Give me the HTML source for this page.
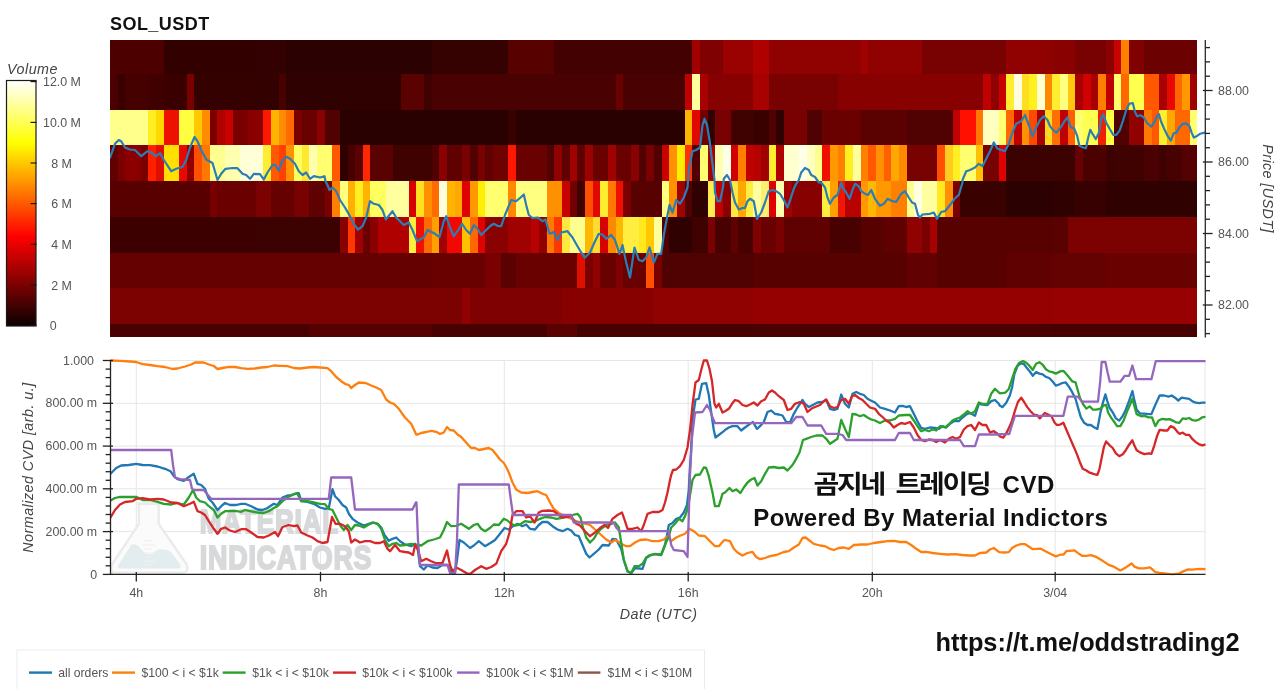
<!DOCTYPE html>
<html lang="ko"><head><meta charset="utf-8"><title>SOL_USDT CVD</title>
<style>html,body{margin:0;padding:0;background:#fff;}body{width:1280px;height:689px;overflow:hidden;position:relative;font-family:"Liberation Sans",sans-serif;}svg{position:absolute;left:0;top:0;display:block;will-change:transform;opacity:0.9999}text{font-family:"Liberation Sans",sans-serif}.kr{font-family:"Liberation Sans","Noto Sans CJK KR",sans-serif;font-weight:bold;fill:#111}</style>
</head><body>
<svg width="1280" height="689" viewBox="0 0 1280 689">
<defs><linearGradient id="hot" x1="0" y1="1" x2="0" y2="0"><stop offset="0" stop-color="#0b0000"/><stop offset="0.365" stop-color="#ff0000"/><stop offset="0.746" stop-color="#ffff00"/><stop offset="1" stop-color="#ffffff"/></linearGradient><clipPath id="cp1"><rect x="110" y="40" width="1095.6" height="297"/></clipPath><clipPath id="cp2"><rect x="110" y="359" width="1095.6" height="216.5"/></clipPath></defs>
<rect x="0" y="0" width="1280" height="689" fill="#fff"/>
<text x="110" y="30.2" font-size="18" font-weight="bold" fill="#111" letter-spacing="0.45">SOL_USDT</text>
<text x="7" y="74.2" font-size="14.3" font-style="italic" fill="#444" letter-spacing="0.5">Volume</text>
<rect x="6.5" y="80.5" width="29.5" height="245.5" fill="url(#hot)" stroke="#1a1a1a" stroke-width="1.2"/>
<line x1="30.5" x2="36.5" y1="81.6" y2="81.6" stroke="#1a1a1a" stroke-width="1.2"/>
<text x="43.0" y="86.1" font-size="12.4" fill="#555">12.0 M</text>
<line x1="30.5" x2="36.5" y1="122.4" y2="122.4" stroke="#1a1a1a" stroke-width="1.2"/>
<text x="43.0" y="126.9" font-size="12.4" fill="#555">10.0 M</text>
<line x1="30.5" x2="36.5" y1="163.0" y2="163.0" stroke="#1a1a1a" stroke-width="1.2"/>
<text x="51.2" y="167.5" font-size="12.4" fill="#555">8 M</text>
<line x1="30.5" x2="36.5" y1="203.6" y2="203.6" stroke="#1a1a1a" stroke-width="1.2"/>
<text x="51.2" y="208.1" font-size="12.4" fill="#555">6 M</text>
<line x1="30.5" x2="36.5" y1="244.3" y2="244.3" stroke="#1a1a1a" stroke-width="1.2"/>
<text x="51.2" y="248.8" font-size="12.4" fill="#555">4 M</text>
<line x1="30.5" x2="36.5" y1="285.0" y2="285.0" stroke="#1a1a1a" stroke-width="1.2"/>
<text x="51.2" y="289.5" font-size="12.4" fill="#555">2 M</text>
<line x1="30.5" x2="36.5" y1="325.4" y2="325.4" stroke="#1a1a1a" stroke-width="1.2"/>
<text x="49.7" y="329.9" font-size="12.4" fill="#555">0</text>
<g shape-rendering="crispEdges">
<rect x="110.0" y="40.0" width="53.9" height="34.0" fill="#4d0000"/>
<rect x="163.6" y="40.0" width="122.9" height="34.0" fill="#330000"/>
<rect x="286.2" y="40.0" width="145.8" height="34.0" fill="#2c0000"/>
<rect x="431.7" y="40.0" width="76.9" height="34.0" fill="#350000"/>
<rect x="508.3" y="40.0" width="46.3" height="34.0" fill="#580000"/>
<rect x="554.3" y="40.0" width="138.2" height="34.0" fill="#440000"/>
<rect x="692.2" y="40.0" width="8.0" height="34.0" fill="#a00000"/>
<rect x="699.8" y="40.0" width="23.3" height="34.0" fill="#800000"/>
<rect x="722.8" y="40.0" width="30.9" height="34.0" fill="#9a0000"/>
<rect x="753.4" y="40.0" width="15.6" height="34.0" fill="#b00000"/>
<rect x="768.8" y="40.0" width="92.2" height="34.0" fill="#900000"/>
<rect x="860.7" y="40.0" width="8.0" height="34.0" fill="#a00000"/>
<rect x="868.3" y="40.0" width="53.9" height="34.0" fill="#900000"/>
<rect x="922.0" y="40.0" width="84.6" height="34.0" fill="#780000"/>
<rect x="1006.2" y="40.0" width="46.3" height="34.0" fill="#900000"/>
<rect x="1052.2" y="40.0" width="23.3" height="34.0" fill="#8a0000"/>
<rect x="1075.2" y="40.0" width="30.9" height="34.0" fill="#780000"/>
<rect x="1105.8" y="40.0" width="8.0" height="34.0" fill="#8a0000"/>
<rect x="1113.5" y="40.0" width="8.0" height="34.0" fill="#c80000"/>
<rect x="1121.1" y="40.0" width="8.0" height="34.0" fill="#ff8000"/>
<rect x="1128.8" y="40.0" width="15.6" height="34.0" fill="#800000"/>
<rect x="1144.1" y="40.0" width="53.0" height="34.0" fill="#6c0000"/>
<rect x="110.0" y="73.7" width="8.0" height="36.1" fill="#4a0000"/>
<rect x="117.7" y="73.7" width="8.0" height="36.1" fill="#3a0000"/>
<rect x="125.3" y="73.7" width="23.3" height="36.1" fill="#450000"/>
<rect x="148.3" y="73.7" width="15.6" height="36.1" fill="#400000"/>
<rect x="163.6" y="73.7" width="23.3" height="36.1" fill="#3a0000"/>
<rect x="186.6" y="73.7" width="8.0" height="36.1" fill="#7a0000"/>
<rect x="194.3" y="73.7" width="84.6" height="36.1" fill="#340000"/>
<rect x="278.5" y="73.7" width="8.0" height="36.1" fill="#480000"/>
<rect x="286.2" y="73.7" width="115.2" height="36.1" fill="#300000"/>
<rect x="401.1" y="73.7" width="23.3" height="36.1" fill="#5a0000"/>
<rect x="424.1" y="73.7" width="8.0" height="36.1" fill="#400000"/>
<rect x="431.7" y="73.7" width="184.1" height="36.1" fill="#4a0000"/>
<rect x="615.6" y="73.7" width="8.0" height="36.1" fill="#6a0000"/>
<rect x="623.2" y="73.7" width="61.6" height="36.1" fill="#4a0000"/>
<rect x="684.5" y="73.7" width="8.0" height="36.1" fill="#c00000"/>
<rect x="692.2" y="73.7" width="8.0" height="36.1" fill="#ffffa0"/>
<rect x="699.8" y="73.7" width="8.0" height="36.1" fill="#a80000"/>
<rect x="707.5" y="73.7" width="46.3" height="36.1" fill="#880000"/>
<rect x="753.4" y="73.7" width="15.6" height="36.1" fill="#a80000"/>
<rect x="768.8" y="73.7" width="69.2" height="36.1" fill="#780000"/>
<rect x="837.7" y="73.7" width="145.8" height="36.1" fill="#880000"/>
<rect x="983.2" y="73.7" width="8.0" height="36.1" fill="#c00000"/>
<rect x="990.9" y="73.7" width="8.0" height="36.1" fill="#900000"/>
<rect x="998.6" y="73.7" width="8.0" height="36.1" fill="#c80000"/>
<rect x="1006.2" y="73.7" width="8.0" height="36.1" fill="#ffee30"/>
<rect x="1013.9" y="73.7" width="8.0" height="36.1" fill="#ffffe0"/>
<rect x="1021.5" y="73.7" width="8.0" height="36.1" fill="#ffdd20"/>
<rect x="1029.2" y="73.7" width="8.0" height="36.1" fill="#fff020"/>
<rect x="1036.9" y="73.7" width="8.0" height="36.1" fill="#ffffd0"/>
<rect x="1044.5" y="73.7" width="8.0" height="36.1" fill="#ff8800"/>
<rect x="1052.2" y="73.7" width="8.0" height="36.1" fill="#ffee30"/>
<rect x="1059.8" y="73.7" width="8.0" height="36.1" fill="#ffff80"/>
<rect x="1067.5" y="73.7" width="8.0" height="36.1" fill="#ffc810"/>
<rect x="1075.2" y="73.7" width="8.0" height="36.1" fill="#a80000"/>
<rect x="1082.8" y="73.7" width="8.0" height="36.1" fill="#d00000"/>
<rect x="1090.5" y="73.7" width="8.0" height="36.1" fill="#a80000"/>
<rect x="1098.1" y="73.7" width="8.0" height="36.1" fill="#ff8000"/>
<rect x="1105.8" y="73.7" width="8.0" height="36.1" fill="#c00000"/>
<rect x="1113.5" y="73.7" width="8.0" height="36.1" fill="#ffff70"/>
<rect x="1121.1" y="73.7" width="8.0" height="36.1" fill="#ff6800"/>
<rect x="1128.8" y="73.7" width="15.6" height="36.1" fill="#ffff50"/>
<rect x="1144.1" y="73.7" width="15.6" height="36.1" fill="#ff5800"/>
<rect x="1159.4" y="73.7" width="8.0" height="36.1" fill="#a80000"/>
<rect x="1167.1" y="73.7" width="8.0" height="36.1" fill="#e80800"/>
<rect x="1174.7" y="73.7" width="8.0" height="36.1" fill="#ff6800"/>
<rect x="1182.4" y="73.7" width="8.0" height="36.1" fill="#ff9800"/>
<rect x="1190.1" y="73.7" width="7.0" height="36.1" fill="#a00000"/>
<rect x="110.0" y="109.5" width="38.6" height="36.1" fill="#ffff8c"/>
<rect x="148.3" y="109.5" width="8.0" height="36.1" fill="#ffee20"/>
<rect x="156.0" y="109.5" width="8.0" height="36.1" fill="#ffd800"/>
<rect x="163.6" y="109.5" width="15.6" height="36.1" fill="#ee1000"/>
<rect x="178.9" y="109.5" width="15.6" height="36.1" fill="#ffff40"/>
<rect x="194.3" y="109.5" width="8.0" height="36.1" fill="#ffc800"/>
<rect x="201.9" y="109.5" width="8.0" height="36.1" fill="#ff8c00"/>
<rect x="209.6" y="109.5" width="8.0" height="36.1" fill="#7a0000"/>
<rect x="217.2" y="109.5" width="8.0" height="36.1" fill="#b00000"/>
<rect x="224.9" y="109.5" width="8.0" height="36.1" fill="#c80000"/>
<rect x="232.6" y="109.5" width="15.6" height="36.1" fill="#7a0000"/>
<rect x="247.9" y="109.5" width="15.6" height="36.1" fill="#8a0000"/>
<rect x="263.2" y="109.5" width="8.0" height="36.1" fill="#ff1800"/>
<rect x="270.9" y="109.5" width="8.0" height="36.1" fill="#ffb400"/>
<rect x="278.5" y="109.5" width="8.0" height="36.1" fill="#ff8c00"/>
<rect x="286.2" y="109.5" width="8.0" height="36.1" fill="#ff6a00"/>
<rect x="293.8" y="109.5" width="8.0" height="36.1" fill="#7a0000"/>
<rect x="301.5" y="109.5" width="15.6" height="36.1" fill="#6a0000"/>
<rect x="316.8" y="109.5" width="8.0" height="36.1" fill="#8a0000"/>
<rect x="324.5" y="109.5" width="15.6" height="36.1" fill="#500000"/>
<rect x="339.8" y="109.5" width="168.8" height="36.1" fill="#2a0000"/>
<rect x="508.3" y="109.5" width="8.0" height="36.1" fill="#3a0000"/>
<rect x="516.0" y="109.5" width="168.8" height="36.1" fill="#2a0000"/>
<rect x="684.5" y="109.5" width="8.0" height="36.1" fill="#ffb400"/>
<rect x="692.2" y="109.5" width="8.0" height="36.1" fill="#e00800"/>
<rect x="699.8" y="109.5" width="8.0" height="36.1" fill="#700000"/>
<rect x="707.5" y="109.5" width="8.0" height="36.1" fill="#300000"/>
<rect x="715.1" y="109.5" width="15.6" height="36.1" fill="#7a0000"/>
<rect x="730.5" y="109.5" width="23.3" height="36.1" fill="#400000"/>
<rect x="753.4" y="109.5" width="15.6" height="36.1" fill="#3a0000"/>
<rect x="768.8" y="109.5" width="8.0" height="36.1" fill="#500000"/>
<rect x="776.4" y="109.5" width="8.0" height="36.1" fill="#300000"/>
<rect x="784.1" y="109.5" width="23.3" height="36.1" fill="#7a0000"/>
<rect x="807.1" y="109.5" width="15.6" height="36.1" fill="#500000"/>
<rect x="822.4" y="109.5" width="38.6" height="36.1" fill="#6a0000"/>
<rect x="860.7" y="109.5" width="46.3" height="36.1" fill="#5a0000"/>
<rect x="906.6" y="109.5" width="46.3" height="36.1" fill="#500000"/>
<rect x="952.6" y="109.5" width="8.0" height="36.1" fill="#c00000"/>
<rect x="960.3" y="109.5" width="15.6" height="36.1" fill="#ff1000"/>
<rect x="975.6" y="109.5" width="8.0" height="36.1" fill="#ff7800"/>
<rect x="983.2" y="109.5" width="15.6" height="36.1" fill="#ffffc0"/>
<rect x="998.6" y="109.5" width="8.0" height="36.1" fill="#ffff70"/>
<rect x="1006.2" y="109.5" width="8.0" height="36.1" fill="#ff6800"/>
<rect x="1013.9" y="109.5" width="8.0" height="36.1" fill="#c00000"/>
<rect x="1021.5" y="109.5" width="8.0" height="36.1" fill="#ff9000"/>
<rect x="1029.2" y="109.5" width="8.0" height="36.1" fill="#ff4800"/>
<rect x="1036.9" y="109.5" width="8.0" height="36.1" fill="#a80000"/>
<rect x="1044.5" y="109.5" width="8.0" height="36.1" fill="#ffd820"/>
<rect x="1052.2" y="109.5" width="8.0" height="36.1" fill="#ff7000"/>
<rect x="1059.8" y="109.5" width="8.0" height="36.1" fill="#c00000"/>
<rect x="1067.5" y="109.5" width="8.0" height="36.1" fill="#ff6000"/>
<rect x="1075.2" y="109.5" width="8.0" height="36.1" fill="#ffff70"/>
<rect x="1082.8" y="109.5" width="15.6" height="36.1" fill="#ffff50"/>
<rect x="1098.1" y="109.5" width="8.0" height="36.1" fill="#f02000"/>
<rect x="1105.8" y="109.5" width="8.0" height="36.1" fill="#ffff40"/>
<rect x="1113.5" y="109.5" width="15.6" height="36.1" fill="#500000"/>
<rect x="1128.8" y="109.5" width="15.6" height="36.1" fill="#900000"/>
<rect x="1144.1" y="109.5" width="8.0" height="36.1" fill="#ff7800"/>
<rect x="1151.8" y="109.5" width="8.0" height="36.1" fill="#ff5800"/>
<rect x="1159.4" y="109.5" width="8.0" height="36.1" fill="#ffee30"/>
<rect x="1167.1" y="109.5" width="8.0" height="36.1" fill="#ffa800"/>
<rect x="1174.7" y="109.5" width="15.6" height="36.1" fill="#ff6800"/>
<rect x="1190.1" y="109.5" width="7.0" height="36.1" fill="#ffff70"/>
<rect x="110.0" y="145.3" width="8.0" height="36.3" fill="#600000"/>
<rect x="117.7" y="145.3" width="8.0" height="36.3" fill="#7a0000"/>
<rect x="125.3" y="145.3" width="15.6" height="36.3" fill="#8a0000"/>
<rect x="140.6" y="145.3" width="8.0" height="36.3" fill="#7a0000"/>
<rect x="148.3" y="145.3" width="8.0" height="36.3" fill="#ff2000"/>
<rect x="156.0" y="145.3" width="8.0" height="36.3" fill="#e01000"/>
<rect x="163.6" y="145.3" width="15.6" height="36.3" fill="#ffe000"/>
<rect x="178.9" y="145.3" width="8.0" height="36.3" fill="#e80800"/>
<rect x="186.6" y="145.3" width="8.0" height="36.3" fill="#900000"/>
<rect x="194.3" y="145.3" width="8.0" height="36.3" fill="#ff5000"/>
<rect x="201.9" y="145.3" width="8.0" height="36.3" fill="#ff7800"/>
<rect x="209.6" y="145.3" width="15.6" height="36.3" fill="#ffff90"/>
<rect x="224.9" y="145.3" width="15.6" height="36.3" fill="#ffffb0"/>
<rect x="240.2" y="145.3" width="23.3" height="36.3" fill="#ffffd8"/>
<rect x="263.2" y="145.3" width="8.0" height="36.3" fill="#ffee30"/>
<rect x="270.9" y="145.3" width="8.0" height="36.3" fill="#ff5a00"/>
<rect x="278.5" y="145.3" width="8.0" height="36.3" fill="#ff4000"/>
<rect x="286.2" y="145.3" width="8.0" height="36.3" fill="#ff9000"/>
<rect x="293.8" y="145.3" width="8.0" height="36.3" fill="#ffff60"/>
<rect x="301.5" y="145.3" width="8.0" height="36.3" fill="#ffe830"/>
<rect x="309.2" y="145.3" width="8.0" height="36.3" fill="#ffffb0"/>
<rect x="316.8" y="145.3" width="15.6" height="36.3" fill="#ffff70"/>
<rect x="332.1" y="145.3" width="8.0" height="36.3" fill="#ff5a00"/>
<rect x="339.8" y="145.3" width="8.0" height="36.3" fill="#300000"/>
<rect x="347.5" y="145.3" width="8.0" height="36.3" fill="#480000"/>
<rect x="355.1" y="145.3" width="8.0" height="36.3" fill="#5a0000"/>
<rect x="362.8" y="145.3" width="8.0" height="36.3" fill="#ff2800"/>
<rect x="370.4" y="145.3" width="23.3" height="36.3" fill="#5a0000"/>
<rect x="393.4" y="145.3" width="38.6" height="36.3" fill="#400000"/>
<rect x="431.7" y="145.3" width="8.0" height="36.3" fill="#500000"/>
<rect x="439.4" y="145.3" width="8.0" height="36.3" fill="#8a0000"/>
<rect x="447.0" y="145.3" width="15.6" height="36.3" fill="#600000"/>
<rect x="462.4" y="145.3" width="8.0" height="36.3" fill="#7a0000"/>
<rect x="470.0" y="145.3" width="8.0" height="36.3" fill="#500000"/>
<rect x="477.7" y="145.3" width="8.0" height="36.3" fill="#7a0000"/>
<rect x="485.3" y="145.3" width="8.0" height="36.3" fill="#600000"/>
<rect x="493.0" y="145.3" width="15.6" height="36.3" fill="#700000"/>
<rect x="508.3" y="145.3" width="8.0" height="36.3" fill="#ff1800"/>
<rect x="516.0" y="145.3" width="30.9" height="36.3" fill="#6a0000"/>
<rect x="546.6" y="145.3" width="8.0" height="36.3" fill="#500000"/>
<rect x="554.3" y="145.3" width="8.0" height="36.3" fill="#900000"/>
<rect x="561.9" y="145.3" width="8.0" height="36.3" fill="#600000"/>
<rect x="569.6" y="145.3" width="8.0" height="36.3" fill="#a00000"/>
<rect x="577.3" y="145.3" width="8.0" height="36.3" fill="#600000"/>
<rect x="584.9" y="145.3" width="8.0" height="36.3" fill="#9a0000"/>
<rect x="592.6" y="145.3" width="15.6" height="36.3" fill="#6a0000"/>
<rect x="607.9" y="145.3" width="8.0" height="36.3" fill="#a00000"/>
<rect x="615.6" y="145.3" width="15.6" height="36.3" fill="#6a0000"/>
<rect x="630.9" y="145.3" width="8.0" height="36.3" fill="#8a0000"/>
<rect x="638.5" y="145.3" width="8.0" height="36.3" fill="#500000"/>
<rect x="646.2" y="145.3" width="8.0" height="36.3" fill="#7a0000"/>
<rect x="653.9" y="145.3" width="8.0" height="36.3" fill="#500000"/>
<rect x="661.5" y="145.3" width="8.0" height="36.3" fill="#c80000"/>
<rect x="669.2" y="145.3" width="8.0" height="36.3" fill="#ff9000"/>
<rect x="676.8" y="145.3" width="8.0" height="36.3" fill="#ffee00"/>
<rect x="684.5" y="145.3" width="8.0" height="36.3" fill="#ff3000"/>
<rect x="692.2" y="145.3" width="8.0" height="36.3" fill="#500000"/>
<rect x="699.8" y="145.3" width="8.0" height="36.3" fill="#ffff70"/>
<rect x="707.5" y="145.3" width="8.0" height="36.3" fill="#a80000"/>
<rect x="715.1" y="145.3" width="8.0" height="36.3" fill="#ffffb0"/>
<rect x="722.8" y="145.3" width="8.0" height="36.3" fill="#ffffe8"/>
<rect x="730.5" y="145.3" width="8.0" height="36.3" fill="#d00000"/>
<rect x="738.1" y="145.3" width="8.0" height="36.3" fill="#ff8000"/>
<rect x="745.8" y="145.3" width="8.0" height="36.3" fill="#c00000"/>
<rect x="753.4" y="145.3" width="8.0" height="36.3" fill="#b80000"/>
<rect x="761.1" y="145.3" width="8.0" height="36.3" fill="#a00000"/>
<rect x="768.8" y="145.3" width="8.0" height="36.3" fill="#ffee30"/>
<rect x="776.4" y="145.3" width="8.0" height="36.3" fill="#b00000"/>
<rect x="784.1" y="145.3" width="15.6" height="36.3" fill="#ffffd0"/>
<rect x="799.4" y="145.3" width="8.0" height="36.3" fill="#ffffe8"/>
<rect x="807.1" y="145.3" width="8.0" height="36.3" fill="#ffffc0"/>
<rect x="814.7" y="145.3" width="8.0" height="36.3" fill="#ffff90"/>
<rect x="822.4" y="145.3" width="8.0" height="36.3" fill="#f01000"/>
<rect x="830.0" y="145.3" width="8.0" height="36.3" fill="#ff9800"/>
<rect x="837.7" y="145.3" width="8.0" height="36.3" fill="#ff8000"/>
<rect x="845.4" y="145.3" width="8.0" height="36.3" fill="#ffee20"/>
<rect x="853.0" y="145.3" width="8.0" height="36.3" fill="#ffffa0"/>
<rect x="860.7" y="145.3" width="8.0" height="36.3" fill="#ff8000"/>
<rect x="868.3" y="145.3" width="8.0" height="36.3" fill="#ff5800"/>
<rect x="876.0" y="145.3" width="8.0" height="36.3" fill="#ff9000"/>
<rect x="883.7" y="145.3" width="8.0" height="36.3" fill="#ff6000"/>
<rect x="891.3" y="145.3" width="8.0" height="36.3" fill="#ffa800"/>
<rect x="899.0" y="145.3" width="8.0" height="36.3" fill="#ff8800"/>
<rect x="906.6" y="145.3" width="30.9" height="36.3" fill="#780000"/>
<rect x="937.3" y="145.3" width="8.0" height="36.3" fill="#ff5000"/>
<rect x="944.9" y="145.3" width="8.0" height="36.3" fill="#ffcc20"/>
<rect x="952.6" y="145.3" width="8.0" height="36.3" fill="#ffee20"/>
<rect x="960.3" y="145.3" width="15.6" height="36.3" fill="#ffff70"/>
<rect x="975.6" y="145.3" width="8.0" height="36.3" fill="#ffc000"/>
<rect x="983.2" y="145.3" width="15.6" height="36.3" fill="#780000"/>
<rect x="998.6" y="145.3" width="8.0" height="36.3" fill="#e00000"/>
<rect x="1006.2" y="145.3" width="69.2" height="36.3" fill="#3c0000"/>
<rect x="1075.2" y="145.3" width="8.0" height="36.3" fill="#680000"/>
<rect x="1082.8" y="145.3" width="23.3" height="36.3" fill="#4c0000"/>
<rect x="1105.8" y="145.3" width="8.0" height="36.3" fill="#3c0000"/>
<rect x="1113.5" y="145.3" width="30.9" height="36.3" fill="#400000"/>
<rect x="1144.1" y="145.3" width="15.6" height="36.3" fill="#4a0000"/>
<rect x="1159.4" y="145.3" width="8.0" height="36.3" fill="#400000"/>
<rect x="1167.1" y="145.3" width="15.6" height="36.3" fill="#480000"/>
<rect x="1182.4" y="145.3" width="14.7" height="36.3" fill="#560000"/>
<rect x="110.0" y="181.3" width="99.9" height="35.9" fill="#580000"/>
<rect x="209.6" y="181.3" width="8.0" height="35.9" fill="#7a0000"/>
<rect x="217.2" y="181.3" width="38.6" height="35.9" fill="#6a0000"/>
<rect x="255.5" y="181.3" width="15.6" height="35.9" fill="#7c0000"/>
<rect x="270.9" y="181.3" width="23.3" height="35.9" fill="#660000"/>
<rect x="293.8" y="181.3" width="15.6" height="35.9" fill="#780000"/>
<rect x="309.2" y="181.3" width="15.6" height="35.9" fill="#600000"/>
<rect x="324.5" y="181.3" width="8.0" height="35.9" fill="#7a0000"/>
<rect x="332.1" y="181.3" width="8.0" height="35.9" fill="#ff8000"/>
<rect x="339.8" y="181.3" width="8.0" height="35.9" fill="#ffff80"/>
<rect x="347.5" y="181.3" width="8.0" height="35.9" fill="#ffb000"/>
<rect x="355.1" y="181.3" width="8.0" height="35.9" fill="#ffee20"/>
<rect x="362.8" y="181.3" width="8.0" height="35.9" fill="#ffb400"/>
<rect x="370.4" y="181.3" width="15.6" height="35.9" fill="#ffff60"/>
<rect x="385.8" y="181.3" width="23.3" height="35.9" fill="#ffffa0"/>
<rect x="408.7" y="181.3" width="8.0" height="35.9" fill="#d80000"/>
<rect x="416.4" y="181.3" width="8.0" height="35.9" fill="#ffe020"/>
<rect x="424.1" y="181.3" width="8.0" height="35.9" fill="#ff9000"/>
<rect x="431.7" y="181.3" width="8.0" height="35.9" fill="#ff6a00"/>
<rect x="439.4" y="181.3" width="8.0" height="35.9" fill="#ffffe0"/>
<rect x="447.0" y="181.3" width="8.0" height="35.9" fill="#ffb400"/>
<rect x="454.7" y="181.3" width="8.0" height="35.9" fill="#ffa800"/>
<rect x="462.4" y="181.3" width="8.0" height="35.9" fill="#e00000"/>
<rect x="470.0" y="181.3" width="8.0" height="35.9" fill="#ff9800"/>
<rect x="477.7" y="181.3" width="8.0" height="35.9" fill="#ffee00"/>
<rect x="485.3" y="181.3" width="23.3" height="35.9" fill="#ffff70"/>
<rect x="508.3" y="181.3" width="8.0" height="35.9" fill="#ff8800"/>
<rect x="516.0" y="181.3" width="30.9" height="35.9" fill="#ffff80"/>
<rect x="546.6" y="181.3" width="15.6" height="35.9" fill="#ff9000"/>
<rect x="561.9" y="181.3" width="8.0" height="35.9" fill="#c80000"/>
<rect x="569.6" y="181.3" width="8.0" height="35.9" fill="#700000"/>
<rect x="577.3" y="181.3" width="8.0" height="35.9" fill="#400000"/>
<rect x="584.9" y="181.3" width="8.0" height="35.9" fill="#ff5000"/>
<rect x="592.6" y="181.3" width="8.0" height="35.9" fill="#e00800"/>
<rect x="600.2" y="181.3" width="8.0" height="35.9" fill="#ffee30"/>
<rect x="607.9" y="181.3" width="8.0" height="35.9" fill="#ff7800"/>
<rect x="615.6" y="181.3" width="8.0" height="35.9" fill="#f01000"/>
<rect x="623.2" y="181.3" width="8.0" height="35.9" fill="#7a0000"/>
<rect x="630.9" y="181.3" width="30.9" height="35.9" fill="#580000"/>
<rect x="661.5" y="181.3" width="8.0" height="35.9" fill="#ffff80"/>
<rect x="669.2" y="181.3" width="8.0" height="35.9" fill="#ff9000"/>
<rect x="676.8" y="181.3" width="8.0" height="35.9" fill="#a00000"/>
<rect x="684.5" y="181.3" width="8.0" height="35.9" fill="#500000"/>
<rect x="692.2" y="181.3" width="15.6" height="35.9" fill="#300000"/>
<rect x="707.5" y="181.3" width="8.0" height="35.9" fill="#ffee50"/>
<rect x="715.1" y="181.3" width="8.0" height="35.9" fill="#c00000"/>
<rect x="722.8" y="181.3" width="8.0" height="35.9" fill="#8a0000"/>
<rect x="730.5" y="181.3" width="8.0" height="35.9" fill="#ffe840"/>
<rect x="738.1" y="181.3" width="8.0" height="35.9" fill="#ffa800"/>
<rect x="745.8" y="181.3" width="8.0" height="35.9" fill="#ffee40"/>
<rect x="753.4" y="181.3" width="8.0" height="35.9" fill="#ffffa0"/>
<rect x="761.1" y="181.3" width="8.0" height="35.9" fill="#ffee70"/>
<rect x="768.8" y="181.3" width="8.0" height="35.9" fill="#e00000"/>
<rect x="776.4" y="181.3" width="8.0" height="35.9" fill="#ffffb0"/>
<rect x="784.1" y="181.3" width="8.0" height="35.9" fill="#a00000"/>
<rect x="791.7" y="181.3" width="30.9" height="35.9" fill="#880000"/>
<rect x="822.4" y="181.3" width="8.0" height="35.9" fill="#ffee40"/>
<rect x="830.0" y="181.3" width="8.0" height="35.9" fill="#ffa000"/>
<rect x="837.7" y="181.3" width="8.0" height="35.9" fill="#f01800"/>
<rect x="845.4" y="181.3" width="15.6" height="35.9" fill="#b80000"/>
<rect x="860.7" y="181.3" width="8.0" height="35.9" fill="#ff9800"/>
<rect x="868.3" y="181.3" width="8.0" height="35.9" fill="#ffb800"/>
<rect x="876.0" y="181.3" width="15.6" height="35.9" fill="#ff9800"/>
<rect x="891.3" y="181.3" width="15.6" height="35.9" fill="#ff8000"/>
<rect x="906.6" y="181.3" width="8.0" height="35.9" fill="#ffff90"/>
<rect x="914.3" y="181.3" width="8.0" height="35.9" fill="#ffffe0"/>
<rect x="922.0" y="181.3" width="15.6" height="35.9" fill="#ffffa0"/>
<rect x="937.3" y="181.3" width="8.0" height="35.9" fill="#ffe820"/>
<rect x="944.9" y="181.3" width="8.0" height="35.9" fill="#ff9000"/>
<rect x="952.6" y="181.3" width="8.0" height="35.9" fill="#7a0000"/>
<rect x="960.3" y="181.3" width="46.3" height="35.9" fill="#3a0000"/>
<rect x="1006.2" y="181.3" width="46.3" height="35.9" fill="#2c0000"/>
<rect x="1052.2" y="181.3" width="23.3" height="35.9" fill="#300000"/>
<rect x="1075.2" y="181.3" width="30.9" height="35.9" fill="#380000"/>
<rect x="1105.8" y="181.3" width="91.3" height="35.9" fill="#300000"/>
<rect x="110.0" y="216.9" width="230.1" height="35.9" fill="#3c0000"/>
<rect x="339.8" y="216.9" width="8.0" height="35.9" fill="#8a0000"/>
<rect x="347.5" y="216.9" width="8.0" height="35.9" fill="#ff3800"/>
<rect x="355.1" y="216.9" width="8.0" height="35.9" fill="#a00000"/>
<rect x="362.8" y="216.9" width="8.0" height="35.9" fill="#6a0000"/>
<rect x="370.4" y="216.9" width="8.0" height="35.9" fill="#8a0000"/>
<rect x="378.1" y="216.9" width="30.9" height="35.9" fill="#b00000"/>
<rect x="408.7" y="216.9" width="8.0" height="35.9" fill="#ffee40"/>
<rect x="416.4" y="216.9" width="8.0" height="35.9" fill="#f01000"/>
<rect x="424.1" y="216.9" width="8.0" height="35.9" fill="#ff6a00"/>
<rect x="431.7" y="216.9" width="8.0" height="35.9" fill="#ffa000"/>
<rect x="439.4" y="216.9" width="8.0" height="35.9" fill="#a00000"/>
<rect x="447.0" y="216.9" width="15.6" height="35.9" fill="#f00800"/>
<rect x="462.4" y="216.9" width="8.0" height="35.9" fill="#ffc000"/>
<rect x="470.0" y="216.9" width="8.0" height="35.9" fill="#ff6800"/>
<rect x="477.7" y="216.9" width="8.0" height="35.9" fill="#e00000"/>
<rect x="485.3" y="216.9" width="23.3" height="35.9" fill="#8a0000"/>
<rect x="508.3" y="216.9" width="23.3" height="35.9" fill="#a00000"/>
<rect x="531.3" y="216.9" width="8.0" height="35.9" fill="#b80000"/>
<rect x="539.0" y="216.9" width="8.0" height="35.9" fill="#900000"/>
<rect x="546.6" y="216.9" width="8.0" height="35.9" fill="#ff7800"/>
<rect x="554.3" y="216.9" width="8.0" height="35.9" fill="#ff3800"/>
<rect x="561.9" y="216.9" width="8.0" height="35.9" fill="#ffe840"/>
<rect x="569.6" y="216.9" width="15.6" height="35.9" fill="#ffff90"/>
<rect x="584.9" y="216.9" width="8.0" height="35.9" fill="#ffb800"/>
<rect x="592.6" y="216.9" width="8.0" height="35.9" fill="#ffdd30"/>
<rect x="600.2" y="216.9" width="8.0" height="35.9" fill="#d80000"/>
<rect x="607.9" y="216.9" width="8.0" height="35.9" fill="#ff8800"/>
<rect x="615.6" y="216.9" width="8.0" height="35.9" fill="#ffb800"/>
<rect x="623.2" y="216.9" width="15.6" height="35.9" fill="#ffee40"/>
<rect x="638.5" y="216.9" width="8.0" height="35.9" fill="#ffe820"/>
<rect x="646.2" y="216.9" width="8.0" height="35.9" fill="#ffc800"/>
<rect x="653.9" y="216.9" width="8.0" height="35.9" fill="#ffffa0"/>
<rect x="661.5" y="216.9" width="8.0" height="35.9" fill="#500000"/>
<rect x="669.2" y="216.9" width="23.3" height="35.9" fill="#300000"/>
<rect x="692.2" y="216.9" width="15.6" height="35.9" fill="#400000"/>
<rect x="707.5" y="216.9" width="8.0" height="35.9" fill="#7a0000"/>
<rect x="715.1" y="216.9" width="15.6" height="35.9" fill="#480000"/>
<rect x="730.5" y="216.9" width="8.0" height="35.9" fill="#600000"/>
<rect x="738.1" y="216.9" width="15.6" height="35.9" fill="#480000"/>
<rect x="753.4" y="216.9" width="8.0" height="35.9" fill="#800000"/>
<rect x="761.1" y="216.9" width="15.6" height="35.9" fill="#6a0000"/>
<rect x="776.4" y="216.9" width="8.0" height="35.9" fill="#7a0000"/>
<rect x="784.1" y="216.9" width="46.3" height="35.9" fill="#600000"/>
<rect x="830.0" y="216.9" width="30.9" height="35.9" fill="#480000"/>
<rect x="860.7" y="216.9" width="23.3" height="35.9" fill="#580000"/>
<rect x="883.7" y="216.9" width="23.3" height="35.9" fill="#600000"/>
<rect x="906.6" y="216.9" width="15.6" height="35.9" fill="#900000"/>
<rect x="922.0" y="216.9" width="8.0" height="35.9" fill="#7a0000"/>
<rect x="929.6" y="216.9" width="8.0" height="35.9" fill="#a80000"/>
<rect x="937.3" y="216.9" width="115.2" height="35.9" fill="#580000"/>
<rect x="1052.2" y="216.9" width="15.6" height="35.9" fill="#5a0000"/>
<rect x="1067.5" y="216.9" width="129.6" height="35.9" fill="#7c0000"/>
<rect x="110.0" y="252.5" width="322.0" height="35.8" fill="#650000"/>
<rect x="431.7" y="252.5" width="53.9" height="35.8" fill="#6a0000"/>
<rect x="485.3" y="252.5" width="15.6" height="35.8" fill="#7a0000"/>
<rect x="500.7" y="252.5" width="15.6" height="35.8" fill="#5a0000"/>
<rect x="516.0" y="252.5" width="61.6" height="35.8" fill="#6a0000"/>
<rect x="577.3" y="252.5" width="8.0" height="35.8" fill="#e01000"/>
<rect x="584.9" y="252.5" width="8.0" height="35.8" fill="#7a0000"/>
<rect x="592.6" y="252.5" width="8.0" height="35.8" fill="#900000"/>
<rect x="600.2" y="252.5" width="15.6" height="35.8" fill="#6a0000"/>
<rect x="615.6" y="252.5" width="8.0" height="35.8" fill="#800000"/>
<rect x="623.2" y="252.5" width="23.3" height="35.8" fill="#6a0000"/>
<rect x="646.2" y="252.5" width="8.0" height="35.8" fill="#ff5000"/>
<rect x="653.9" y="252.5" width="8.0" height="35.8" fill="#7a0000"/>
<rect x="661.5" y="252.5" width="92.2" height="35.8" fill="#500000"/>
<rect x="753.4" y="252.5" width="153.5" height="35.8" fill="#580000"/>
<rect x="906.6" y="252.5" width="30.9" height="35.8" fill="#620000"/>
<rect x="937.3" y="252.5" width="69.2" height="35.8" fill="#580000"/>
<rect x="1006.2" y="252.5" width="46.3" height="35.8" fill="#600000"/>
<rect x="1052.2" y="252.5" width="53.9" height="35.8" fill="#640000"/>
<rect x="1105.8" y="252.5" width="91.3" height="35.8" fill="#6a0000"/>
<rect x="110.0" y="288.0" width="352.7" height="36.1" fill="#7c0000"/>
<rect x="462.4" y="288.0" width="8.0" height="36.1" fill="#900000"/>
<rect x="470.0" y="288.0" width="92.2" height="36.1" fill="#800000"/>
<rect x="561.9" y="288.0" width="92.2" height="36.1" fill="#880000"/>
<rect x="653.9" y="288.0" width="99.9" height="36.1" fill="#900000"/>
<rect x="753.4" y="288.0" width="299.0" height="36.1" fill="#950000"/>
<rect x="1052.2" y="288.0" width="144.9" height="36.1" fill="#980000"/>
<rect x="110.0" y="323.8" width="199.5" height="13.5" fill="#480000"/>
<rect x="309.2" y="323.8" width="122.9" height="13.5" fill="#550000"/>
<rect x="431.7" y="323.8" width="115.2" height="13.5" fill="#480000"/>
<rect x="546.6" y="323.8" width="30.9" height="13.5" fill="#5a0000"/>
<rect x="577.3" y="323.8" width="176.5" height="13.5" fill="#480000"/>
<rect x="753.4" y="323.8" width="299.0" height="13.5" fill="#4a0000"/>
<rect x="1052.2" y="323.8" width="144.9" height="13.5" fill="#480000"/>
</g>
<path d="M110.0 157.5 L115.0 143.8 L118.8 140.0 L121.2 141.2 L125.0 147.5 L130.0 149.5 L135.0 150.0 L141.2 156.2 L147.5 151.2 L151.2 152.5 L156.2 156.2 L160.0 153.0 L163.8 160.0 L171.2 171.2 L176.2 168.8 L182.5 167.0 L186.2 160.0 L190.0 147.5 L194.5 137.0 L197.5 141.2 L201.2 150.0 L206.2 159.5 L212.5 163.0 L217.5 180.0 L221.2 173.8 L225.5 168.8 L232.5 168.0 L237.5 168.2 L242.5 173.8 L246.2 175.0 L250.0 178.8 L253.8 173.8 L260.0 174.2 L263.8 179.5 L267.5 172.5 L272.5 165.0 L275.0 164.5 L278.8 170.5 L282.5 160.5 L286.2 156.8 L290.0 158.8 L295.0 163.8 L298.8 171.2 L302.5 175.0 L306.2 172.5 L310.0 178.8 L313.8 176.2 L320.0 177.5 L324.5 176.2 L325.5 181.2 L327.5 185.0 L329.5 190.0 L332.5 187.5 L336.2 191.2 L340.0 200.0 L345.0 207.5 L350.0 216.2 L353.8 223.8 L358.0 229.5 L362.5 226.2 L366.2 217.5 L370.0 201.2 L373.8 203.8 L378.8 205.0 L382.5 210.0 L385.8 219.5 L389.5 215.0 L392.5 211.2 L396.2 217.5 L400.0 221.2 L403.8 225.0 L408.8 222.5 L412.5 230.0 L417.0 241.2 L421.2 238.8 L423.8 237.5 L427.5 230.0 L430.0 231.2 L435.0 233.8 L439.5 237.0 L443.8 221.2 L446.2 216.2 L450.0 227.5 L453.8 236.2 L457.5 231.2 L462.0 223.8 L466.2 230.0 L470.0 233.8 L473.8 225.0 L477.5 228.8 L481.2 235.0 L486.2 230.0 L490.0 226.2 L493.8 223.8 L497.5 225.8 L501.2 226.2 L505.0 215.0 L511.2 200.0 L516.2 201.2 L520.0 198.0 L523.8 194.5 L526.2 205.0 L528.8 215.0 L532.5 218.0 L537.5 217.5 L542.5 221.2 L545.5 219.5 L549.5 233.8 L553.8 232.0 L557.5 240.0 L561.2 232.5 L567.5 231.2 L572.5 237.5 L577.5 246.2 L581.2 252.5 L585.0 257.5 L590.0 252.5 L595.0 241.2 L598.8 233.8 L602.5 234.5 L606.2 238.8 L611.2 235.0 L615.0 240.0 L619.5 253.8 L622.5 245.0 L626.2 262.5 L630.0 277.5 L634.5 247.5 L638.8 260.0 L642.5 261.2 L646.2 257.5 L649.5 247.5 L653.8 262.5 L657.5 253.8 L661.2 253.8 L663.8 235.0 L667.5 215.0 L669.5 205.0 L672.5 212.5 L676.2 200.0 L680.0 203.8 L683.8 197.5 L687.5 187.5 L688.8 170.0 L692.5 151.2 L696.2 150.0 L700.0 147.5 L702.5 125.0 L704.5 118.8 L707.0 125.0 L709.5 140.0 L712.0 160.0 L714.5 180.0 L715.0 192.5 L717.5 201.2 L720.0 201.2 L723.0 187.5 L723.8 178.8 L727.0 175.0 L730.0 180.0 L732.5 192.5 L735.0 202.5 L738.8 209.5 L742.5 208.0 L745.0 208.0 L747.5 201.2 L750.0 198.8 L753.8 201.2 L757.0 218.8 L761.2 212.5 L765.0 202.5 L768.8 191.2 L772.5 190.0 L776.2 191.2 L780.0 193.8 L783.8 200.0 L787.5 207.5 L790.5 198.8 L793.8 188.8 L796.2 183.8 L798.8 180.0 L801.2 172.5 L805.0 168.0 L808.8 170.0 L811.2 175.0 L815.0 177.0 L818.8 182.5 L821.2 182.5 L825.0 187.5 L827.5 197.5 L830.0 203.8 L833.8 197.5 L837.5 195.0 L841.2 182.5 L842.5 187.5 L846.2 192.5 L849.5 198.8 L852.5 190.0 L855.0 183.8 L858.8 186.2 L861.2 191.2 L865.0 193.8 L868.0 195.0 L871.2 190.0 L875.0 198.8 L880.0 205.8 L883.8 203.8 L887.5 198.8 L892.5 201.2 L896.2 202.0 L901.2 193.8 L905.0 191.2 L908.8 197.5 L912.0 202.5 L915.0 203.8 L918.0 215.0 L920.0 217.5 L922.5 214.5 L930.0 213.8 L933.8 212.5 L937.0 218.8 L941.2 212.0 L945.0 211.2 L950.0 205.0 L954.5 198.8 L958.8 195.0 L962.5 182.5 L962.5 180.0 L966.2 171.2 L970.0 170.0 L975.0 167.5 L978.8 163.8 L982.5 166.2 L986.2 158.8 L990.0 151.2 L993.8 142.5 L997.5 148.8 L1001.2 150.0 L1005.0 151.2 L1008.8 143.8 L1012.5 132.5 L1016.2 123.8 L1021.2 121.2 L1025.0 115.0 L1028.8 125.0 L1032.5 136.2 L1036.2 127.5 L1040.0 120.0 L1043.8 116.2 L1047.5 120.0 L1050.0 126.1 L1053.3 130.4 L1056.5 132.6 L1060.9 127.1 L1064.2 121.7 L1067.4 117.3 L1070.7 127.1 L1074.0 128.2 L1077.2 135.9 L1079.4 145.7 L1082.7 147.2 L1085.9 148.3 L1088.1 138.0 L1090.3 129.8 L1092.5 133.7 L1095.8 139.1 L1099.0 132.6 L1101.2 118.4 L1103.4 114.1 L1106.2 122.8 L1109.9 129.3 L1113.2 134.8 L1116.4 134.8 L1119.7 130.4 L1123.0 120.6 L1126.3 109.7 L1129.5 103.6 L1132.8 103.2 L1135.0 111.9 L1137.1 116.3 L1140.4 115.2 L1143.7 117.3 L1146.9 122.8 L1151.3 126.7 L1154.6 121.7 L1156.8 116.3 L1158.9 114.1 L1161.1 121.7 L1164.4 129.3 L1167.6 135.9 L1170.9 140.7 L1173.7 133.2 L1176.4 132.6 L1179.6 127.1 L1182.9 123.9 L1186.2 123.4 L1189.4 126.1 L1191.6 132.6 L1193.8 137.6 L1197.1 135.9 L1200.3 133.7 L1204.7 132.6" fill="none" stroke="#2b7db6" stroke-width="2.2" stroke-linejoin="round" stroke-linecap="round" clip-path="url(#cp1)"/>
<line x1="1205.3" x2="1205.3" y1="40" y2="337.5" stroke="#222" stroke-width="1.25"/>
<line x1="1205.3" x2="1210" y1="333.6" y2="333.6" stroke="#222" stroke-width="1.3"/>
<line x1="1205.3" x2="1210" y1="319.3" y2="319.3" stroke="#222" stroke-width="1.3"/>
<line x1="1202.8" x2="1212.6" y1="305.0" y2="305.0" stroke="#222" stroke-width="1.3"/>
<text x="1218" y="309.4" font-size="12.4" fill="#555">82.00</text>
<line x1="1205.3" x2="1210" y1="290.7" y2="290.7" stroke="#222" stroke-width="1.3"/>
<line x1="1205.3" x2="1210" y1="276.4" y2="276.4" stroke="#222" stroke-width="1.3"/>
<line x1="1205.3" x2="1210" y1="262.1" y2="262.1" stroke="#222" stroke-width="1.3"/>
<line x1="1205.3" x2="1210" y1="247.8" y2="247.8" stroke="#222" stroke-width="1.3"/>
<line x1="1202.8" x2="1212.6" y1="233.5" y2="233.5" stroke="#222" stroke-width="1.3"/>
<text x="1218" y="237.9" font-size="12.4" fill="#555">84.00</text>
<line x1="1205.3" x2="1210" y1="219.2" y2="219.2" stroke="#222" stroke-width="1.3"/>
<line x1="1205.3" x2="1210" y1="204.9" y2="204.9" stroke="#222" stroke-width="1.3"/>
<line x1="1205.3" x2="1210" y1="190.6" y2="190.6" stroke="#222" stroke-width="1.3"/>
<line x1="1205.3" x2="1210" y1="176.3" y2="176.3" stroke="#222" stroke-width="1.3"/>
<line x1="1202.8" x2="1212.6" y1="162.0" y2="162.0" stroke="#222" stroke-width="1.3"/>
<text x="1218" y="166.4" font-size="12.4" fill="#555">86.00</text>
<line x1="1205.3" x2="1210" y1="147.7" y2="147.7" stroke="#222" stroke-width="1.3"/>
<line x1="1205.3" x2="1210" y1="133.4" y2="133.4" stroke="#222" stroke-width="1.3"/>
<line x1="1205.3" x2="1210" y1="119.1" y2="119.1" stroke="#222" stroke-width="1.3"/>
<line x1="1205.3" x2="1210" y1="104.8" y2="104.8" stroke="#222" stroke-width="1.3"/>
<line x1="1202.8" x2="1212.6" y1="90.5" y2="90.5" stroke="#222" stroke-width="1.3"/>
<text x="1218" y="94.9" font-size="12.4" fill="#555">88.00</text>
<line x1="1205.3" x2="1210" y1="76.2" y2="76.2" stroke="#222" stroke-width="1.3"/>
<line x1="1205.3" x2="1210" y1="61.9" y2="61.9" stroke="#222" stroke-width="1.3"/>
<line x1="1205.3" x2="1210" y1="47.6" y2="47.6" stroke="#222" stroke-width="1.3"/>
<text transform="translate(1263,188.6) rotate(90)" text-anchor="middle" font-size="14.3" font-style="italic" fill="#444" letter-spacing="0.45">Price [USDT]</text>
<line x1="110" x2="1205" y1="531.6" y2="531.6" stroke="#e6e6e6" stroke-width="1"/>
<line x1="110" x2="1205" y1="488.8" y2="488.8" stroke="#e6e6e6" stroke-width="1"/>
<line x1="110" x2="1205" y1="446.1" y2="446.1" stroke="#e6e6e6" stroke-width="1"/>
<line x1="110" x2="1205" y1="403.3" y2="403.3" stroke="#e6e6e6" stroke-width="1"/>
<line x1="110" x2="1205" y1="360.5" y2="360.5" stroke="#e6e6e6" stroke-width="1"/>
<line x1="136.3" x2="136.3" y1="360" y2="574" stroke="#e6e6e6" stroke-width="1"/>
<line x1="320.5" x2="320.5" y1="360" y2="574" stroke="#e6e6e6" stroke-width="1"/>
<line x1="504.3" x2="504.3" y1="360" y2="574" stroke="#e6e6e6" stroke-width="1"/>
<line x1="688.2" x2="688.2" y1="360" y2="574" stroke="#e6e6e6" stroke-width="1"/>
<line x1="872.3" x2="872.3" y1="360" y2="574" stroke="#e6e6e6" stroke-width="1"/>
<line x1="1055.2" x2="1055.2" y1="360" y2="574" stroke="#e6e6e6" stroke-width="1"/>
<line x1="1205" x2="1205" y1="360" y2="574" stroke="#e6e6e6" stroke-width="1"/>
<g>
<path d="M138.9 503.8 L138.9 524 L112.3 564 Q108.8 572.7 117 572.7 L181.7 572.7 Q189.8 572.7 186.4 564 L158.7 524 L158.7 503.8 Z" fill="#fbfbfb" stroke="#ebebeb" stroke-width="2.4" stroke-linejoin="round"/>
<line x1="136.8" x2="160.8" y1="503.8" y2="503.8" stroke="#ebebeb" stroke-width="2.6" stroke-linecap="round"/>
<path d="M131.5 544.5 Q137 543 141 549 Q146 556 152 554 Q157 548 163 549.5 Q170 549 174 556 L180.5 565.5 Q181.5 568.5 178 568.5 L120 568.5 Q116.5 568.5 118 565.5 Z" fill="#e3ecee"/>
<g stroke="#f0f0f0" stroke-width="1.1"><line x1="144" x2="152" y1="540.6" y2="540.6"/><line x1="142.5" x2="155.5" y1="545" y2="545"/><line x1="144" x2="152" y1="549" y2="549"/><line x1="142.5" x2="155.5" y1="553" y2="553"/><line x1="144" x2="152" y1="557" y2="557"/><line x1="142.5" x2="155.5" y1="561" y2="561"/><line x1="144" x2="152" y1="565" y2="565"/></g>
<text transform="translate(199.8,533.4) scale(0.80,1)" font-size="32.6" font-weight="bold" fill="#d7d9da" stroke="#d7d9da" stroke-width="2" letter-spacing="1">MATERIAL</text>
<text transform="translate(199.8,569.2) scale(0.79,1)" font-size="34" font-weight="bold" fill="#d7d9da" stroke="#d7d9da" stroke-width="2" letter-spacing="1">INDICATORS</text>
</g>
<g fill="none" stroke-width="2.3" stroke-linejoin="round" stroke-linecap="round" clip-path="url(#cp2)">
<path d="M110.5 473.8 L116.2 468.0 L121.2 465.5 L128.8 465.0 L136.2 463.8 L142.5 465.0 L150.0 465.2 L157.5 466.5 L165.0 468.8 L170.5 471.2 L173.8 476.2 L177.5 479.2 L183.8 480.8 L188.8 477.0 L193.8 473.8 L197.5 483.8 L201.2 485.0 L205.0 488.8 L208.8 498.8 L212.5 502.5 L217.5 510.0 L221.2 506.2 L225.0 503.0 L230.0 505.0 L236.2 505.0 L241.2 503.8 L245.0 503.8 L251.2 506.2 L257.5 509.5 L262.5 510.0 L267.5 508.0 L273.8 503.8 L277.5 505.0 L282.5 497.5 L287.5 495.5 L291.2 495.5 L295.5 493.8 L298.8 493.2 L301.2 501.2 L307.5 501.8 L313.8 503.8 L320.0 507.5 L325.0 508.8 L328.8 508.0 L332.5 489.2 L335.0 496.2 L338.8 500.0 L342.5 505.0 L346.2 507.5 L348.8 513.8 L352.5 518.8 L357.5 522.5 L363.8 525.5 L368.8 523.8 L372.5 522.5 L377.5 523.8 L381.2 527.5 L384.5 535.0 L388.8 540.8 L392.5 538.8 L396.2 537.5 L400.0 541.2 L405.0 544.5 L411.2 546.2 L415.0 543.8 L417.5 547.5 L420.0 566.2 L423.8 569.5 L427.5 565.5 L432.5 567.5 L437.5 568.0 L442.5 565.0 L447.5 565.0 L451.2 572.5 L455.0 572.5 L457.0 560.0 L459.5 540.0 L463.8 542.5 L470.0 548.0 L473.8 545.5 L478.8 541.2 L485.0 546.2 L491.2 542.5 L495.0 540.0 L500.0 533.8 L504.5 528.0 L508.8 529.5 L513.0 526.2 L517.5 523.8 L522.5 526.2 L526.2 524.5 L530.0 528.8 L535.0 529.5 L538.8 525.0 L542.5 522.0 L547.5 522.0 L552.5 526.2 L557.5 529.5 L562.5 531.2 L567.5 528.8 L571.2 530.5 L575.0 535.0 L578.8 536.2 L582.5 545.0 L586.2 553.8 L589.5 557.5 L593.8 553.8 L598.8 549.5 L602.5 545.0 L608.8 545.5 L612.5 538.8 L616.2 539.5 L618.8 544.5 L621.2 548.8 L623.8 560.0 L627.5 571.2 L631.2 573.2 L635.0 568.0 L642.5 568.8 L646.2 558.0 L650.0 555.5 L655.0 554.2 L661.2 555.0 L665.0 545.0 L667.5 532.5 L668.8 525.0 L672.5 523.0 L676.2 518.8 L680.0 517.5 L683.8 512.5 L687.0 505.0 L688.8 490.0 L689.5 475.0 L690.8 455.0 L692.5 420.0 L695.5 399.5 L698.8 398.8 L702.0 383.8 L706.2 383.2 L708.8 395.0 L711.2 412.5 L713.8 430.0 L715.5 437.5 L718.8 435.0 L723.8 431.2 L725.0 430.0 L728.8 427.5 L732.5 426.2 L737.5 426.2 L741.2 430.5 L745.0 427.5 L750.0 423.8 L753.0 422.0 L757.0 428.8 L760.0 426.2 L763.8 422.0 L767.5 412.0 L771.2 410.5 L775.0 413.8 L778.8 414.5 L782.5 415.5 L786.2 422.0 L790.0 422.5 L793.8 413.8 L797.5 407.5 L800.0 403.8 L802.5 400.0 L805.0 403.8 L808.8 407.0 L813.8 404.5 L817.5 402.5 L822.5 402.0 L826.2 400.0 L830.0 408.8 L833.8 410.0 L837.5 408.8 L841.2 394.5 L845.0 403.8 L848.8 407.5 L852.5 393.8 L856.2 392.0 L860.0 393.8 L863.8 395.0 L867.5 398.8 L871.2 400.8 L875.0 402.5 L880.0 407.5 L885.0 408.8 L890.0 410.5 L895.0 412.5 L898.8 406.2 L902.5 405.8 L906.2 407.0 L910.0 406.2 L913.8 413.8 L917.5 421.2 L921.2 428.0 L925.0 428.8 L930.0 427.5 L935.0 428.0 L938.8 428.8 L942.5 426.2 L946.2 427.5 L950.0 423.8 L953.8 421.2 L958.8 421.2 L962.5 417.5 L966.2 414.5 L970.0 413.0 L975.0 415.8 L978.8 403.8 L982.5 404.5 L987.5 405.0 L991.2 401.2 L995.0 400.0 L998.8 403.8 L1000.0 405.8 L1002.6 407.1 L1006.1 403.1 L1009.8 395.5 L1012.0 387.8 L1014.2 374.7 L1017.5 365.9 L1020.8 363.3 L1024.1 364.2 L1027.3 368.6 L1030.6 372.5 L1032.8 375.8 L1036.1 372.1 L1039.4 373.6 L1042.7 374.3 L1045.9 376.9 L1049.2 378.0 L1052.5 381.3 L1055.8 385.6 L1059.1 384.5 L1062.3 383.0 L1065.6 382.3 L1068.9 386.7 L1072.2 392.2 L1075.5 398.8 L1078.3 408.6 L1080.9 417.3 L1084.2 422.8 L1087.5 425.0 L1090.8 425.0 L1094.1 427.2 L1097.4 428.9 L1100.6 411.9 L1102.8 403.1 L1105.4 394.4 L1107.2 400.9 L1109.4 407.5 L1112.7 412.3 L1115.9 418.4 L1119.2 420.6 L1122.5 416.3 L1125.8 409.7 L1129.1 400.9 L1132.4 391.1 L1134.5 400.9 L1136.7 409.7 L1140.0 413.6 L1144.4 413.6 L1148.8 414.1 L1151.4 414.1 L1154.2 407.5 L1157.1 400.9 L1159.7 395.5 L1164.1 395.5 L1168.5 396.6 L1171.7 395.5 L1175.0 397.7 L1178.3 400.5 L1181.6 397.7 L1186.0 398.3 L1189.2 398.8 L1192.5 401.4 L1195.8 402.7 L1199.1 403.1 L1202.4 402.7 L1205.0 402.7" stroke="#1f77b4"/>
<path d="M110.5 360.5 L120.0 360.8 L130.0 361.5 L136.2 362.0 L142.5 364.2 L150.0 365.0 L157.5 366.2 L165.0 367.0 L172.5 369.0 L177.5 368.5 L185.0 366.5 L191.2 364.5 L195.0 362.5 L203.8 362.5 L208.8 364.5 L213.8 366.0 L217.5 369.0 L222.5 368.0 L228.8 366.8 L235.0 367.0 L241.2 368.2 L247.5 368.8 L255.0 368.5 L261.2 367.5 L267.5 367.0 L273.8 365.5 L280.0 365.8 L287.5 366.2 L293.8 368.0 L300.0 368.5 L307.5 367.5 L313.8 367.0 L320.0 367.5 L327.5 368.2 L331.2 371.2 L336.2 377.0 L341.2 381.2 L345.0 383.8 L348.8 385.0 L351.2 388.0 L355.0 385.0 L358.8 382.5 L366.2 383.2 L371.2 385.5 L376.2 387.5 L381.2 390.0 L386.2 399.5 L390.0 402.5 L393.8 403.8 L398.8 408.8 L405.0 417.5 L411.2 423.8 L416.2 434.5 L417.5 434.5 L421.2 433.0 L426.2 432.0 L431.2 430.8 L436.2 431.8 L440.0 434.0 L443.8 432.5 L447.0 427.0 L450.0 430.0 L453.8 430.5 L457.5 434.5 L461.2 437.0 L465.0 441.2 L468.8 445.5 L471.2 448.0 L475.0 448.0 L478.8 450.0 L483.8 449.0 L488.8 448.0 L492.5 450.0 L496.2 454.5 L500.0 459.5 L503.8 463.0 L506.2 467.0 L508.8 472.5 L512.5 482.5 L516.2 489.5 L521.2 492.5 L527.5 493.0 L532.5 492.0 L537.5 491.2 L542.5 493.8 L546.2 495.0 L550.0 502.5 L553.8 508.8 L558.8 513.0 L565.0 516.2 L571.2 518.8 L576.2 521.2 L582.5 523.0 L590.0 525.0 L596.2 530.5 L601.2 535.0 L606.2 539.5 L611.2 542.5 L615.0 540.0 L618.8 542.0 L622.5 544.5 L626.2 546.2 L630.0 546.2 L635.0 542.5 L640.0 540.0 L646.2 539.5 L652.5 541.2 L658.8 541.2 L663.8 539.5 L667.5 536.2 L671.2 541.2 L676.2 537.5 L680.0 535.8 L685.0 533.8 L689.5 528.8 L693.8 531.2 L698.8 535.5 L705.0 536.2 L710.0 541.2 L715.0 546.2 L718.8 546.2 L723.8 540.5 L725.0 540.0 L730.0 541.2 L733.8 548.8 L737.5 552.5 L742.5 555.5 L747.5 553.0 L752.5 551.8 L756.2 557.0 L760.0 559.2 L765.0 558.0 L770.0 556.2 L776.2 555.0 L783.8 552.0 L788.8 551.2 L793.8 547.5 L798.8 544.5 L802.5 538.0 L805.5 537.5 L808.8 540.0 L813.8 543.8 L820.0 545.5 L825.0 546.2 L830.0 548.8 L833.8 550.0 L838.8 548.0 L843.8 547.5 L848.8 548.8 L853.8 545.0 L861.2 544.5 L867.5 544.5 L873.8 543.0 L881.2 542.0 L887.5 541.2 L893.8 540.8 L900.0 542.0 L906.2 542.0 L911.2 545.0 L916.2 548.8 L921.2 552.0 L926.2 551.8 L932.5 553.0 L940.0 553.8 L947.5 554.5 L955.0 554.2 L962.5 555.0 L968.8 555.5 L975.0 555.5 L980.0 553.0 L986.2 552.5 L990.0 549.5 L993.8 548.0 L998.8 551.8 L1000.0 552.1 L1004.4 552.5 L1008.8 552.1 L1012.0 548.1 L1016.4 545.5 L1020.8 544.2 L1025.2 544.2 L1029.5 547.0 L1032.8 549.2 L1036.1 548.8 L1040.5 548.6 L1045.9 551.4 L1051.4 554.3 L1055.8 556.4 L1060.2 554.7 L1063.4 554.7 L1066.7 550.8 L1070.0 550.8 L1074.4 550.3 L1077.7 552.9 L1082.0 555.8 L1086.4 555.8 L1090.8 555.1 L1096.3 556.9 L1100.6 559.5 L1105.0 562.4 L1109.4 565.2 L1113.8 566.7 L1120.3 570.4 L1125.8 567.4 L1129.1 565.2 L1131.7 563.4 L1134.5 566.7 L1138.9 568.3 L1144.4 568.3 L1149.9 567.4 L1153.1 570.0 L1155.3 572.2 L1159.7 572.9 L1166.3 573.7 L1172.8 574.4 L1179.4 573.3 L1183.8 571.1 L1188.1 569.4 L1192.5 569.6 L1196.9 569.1 L1201.3 568.9 L1205.0 569.1" stroke="#ff7f0e"/>
<path d="M110.5 500.5 L115.0 498.0 L120.0 496.8 L128.8 497.0 L136.2 496.8 L142.5 500.0 L150.0 500.0 L157.5 501.8 L163.8 503.8 L171.2 504.5 L177.5 503.0 L183.8 504.5 L188.8 497.5 L193.0 490.0 L196.2 497.5 L200.0 501.2 L205.0 502.5 L208.8 506.2 L213.8 510.0 L217.5 517.5 L221.2 513.8 L225.0 511.2 L230.0 511.2 L235.0 510.8 L241.2 511.8 L245.0 510.0 L250.0 511.2 L257.5 512.5 L263.8 513.0 L268.8 511.2 L273.8 508.0 L277.5 506.2 L282.5 501.2 L287.5 497.5 L292.5 494.5 L297.0 493.0 L301.2 501.2 L307.5 501.2 L313.8 502.5 L320.0 503.8 L325.0 504.2 L328.8 508.8 L332.5 510.0 L336.2 517.5 L340.0 525.0 L343.8 530.0 L347.5 525.0 L351.2 530.0 L355.0 525.0 L358.8 525.5 L363.8 527.5 L368.8 524.5 L373.8 522.5 L377.5 523.8 L381.2 528.8 L385.0 540.0 L388.8 546.2 L392.5 543.8 L396.2 543.0 L400.0 545.5 L405.0 545.0 L411.2 543.8 L415.0 544.5 L421.2 545.5 L427.5 541.2 L433.8 539.5 L440.0 537.5 L443.8 530.0 L447.0 522.0 L451.2 526.2 L456.2 525.8 L461.2 523.8 L465.0 526.2 L468.8 528.8 L473.8 525.0 L477.5 523.8 L481.2 528.8 L485.0 531.2 L490.0 528.0 L493.8 524.5 L498.8 525.0 L503.8 518.8 L507.5 520.5 L511.2 523.8 L515.0 525.5 L520.0 524.5 L525.0 521.2 L530.0 522.0 L535.0 521.2 L540.0 518.8 L545.0 517.0 L551.2 517.5 L556.2 518.8 L561.2 518.0 L567.5 516.2 L572.5 515.0 L577.5 513.8 L580.5 517.5 L583.0 527.5 L586.2 537.5 L590.0 542.5 L593.8 538.8 L597.5 532.5 L601.2 528.8 L606.2 525.0 L611.2 523.8 L615.0 522.5 L618.8 527.5 L621.2 542.5 L623.8 560.0 L627.5 571.2 L631.2 573.0 L634.5 566.2 L638.8 566.2 L642.5 563.8 L646.2 557.5 L650.0 555.0 L655.0 553.8 L661.2 554.5 L665.0 545.0 L668.8 536.2 L671.2 527.5 L675.0 523.8 L678.8 518.8 L682.5 521.2 L685.5 515.0 L688.0 507.5 L690.0 495.0 L692.5 480.0 L695.5 475.0 L700.0 474.5 L703.8 467.5 L706.2 468.0 L708.8 476.2 L712.5 492.5 L715.0 506.2 L718.8 506.2 L722.5 493.8 L725.0 492.5 L729.5 488.0 L732.5 491.2 L736.2 489.5 L740.5 493.0 L743.8 487.5 L747.5 482.5 L751.2 479.5 L754.5 478.0 L757.5 485.5 L761.2 481.2 L765.0 473.8 L768.8 467.5 L773.8 467.0 L778.8 468.0 L783.8 467.5 L787.5 470.5 L792.5 465.0 L796.2 458.8 L799.5 452.5 L803.0 440.0 L806.2 438.8 L811.2 437.0 L816.2 435.5 L822.5 435.5 L826.2 438.8 L830.0 443.8 L833.8 441.2 L837.5 438.8 L841.2 420.0 L845.0 428.8 L848.8 437.0 L852.5 413.8 L856.2 414.5 L860.0 416.2 L863.8 415.0 L867.5 417.5 L871.2 419.5 L875.0 420.5 L880.0 423.0 L885.0 420.5 L890.0 420.5 L895.0 418.8 L898.8 415.5 L905.0 415.0 L910.0 415.0 L913.8 420.5 L917.5 426.2 L921.2 431.2 L925.0 430.0 L928.8 431.2 L932.5 429.5 L936.2 430.5 L940.0 426.2 L945.0 427.5 L948.8 424.5 L952.5 420.5 L956.2 418.8 L960.0 417.5 L963.8 414.5 L967.5 411.2 L971.2 413.8 L975.0 411.2 L978.8 402.5 L982.5 403.8 L987.5 403.8 L991.2 393.8 L995.0 388.8 L998.8 392.5 L1000.0 393.3 L1005.5 392.6 L1008.8 388.9 L1012.0 379.1 L1015.3 369.2 L1019.3 362.7 L1023.0 361.1 L1026.3 362.7 L1029.5 365.9 L1032.8 369.9 L1036.1 363.8 L1039.4 362.2 L1042.7 364.8 L1045.9 369.2 L1049.2 371.4 L1052.5 372.1 L1055.8 373.6 L1060.2 371.4 L1063.4 370.8 L1067.8 375.8 L1072.2 381.3 L1075.5 382.3 L1077.7 390.0 L1079.9 397.7 L1083.1 404.2 L1086.4 408.6 L1089.7 406.4 L1093.0 409.7 L1096.3 409.7 L1100.6 408.6 L1103.9 405.3 L1106.1 404.9 L1108.3 413.0 L1111.6 418.4 L1114.9 422.8 L1117.0 426.1 L1120.3 426.1 L1123.6 420.6 L1126.9 411.9 L1130.2 404.2 L1132.4 398.8 L1134.5 406.4 L1136.7 414.1 L1141.1 416.3 L1144.4 415.8 L1148.8 417.3 L1152.0 417.3 L1155.3 426.1 L1158.6 420.6 L1161.9 418.9 L1166.3 419.5 L1169.5 419.1 L1172.8 420.6 L1176.1 422.4 L1179.4 422.8 L1182.7 418.4 L1186.0 418.9 L1189.2 418.0 L1192.5 420.2 L1195.8 420.6 L1199.1 419.5 L1202.4 417.3 L1205.0 416.9" stroke="#2ca02c"/>
<path d="M110.5 517.5 L115.0 510.0 L120.0 504.5 L125.0 502.0 L132.5 501.2 L136.2 498.8 L142.5 498.2 L150.0 499.5 L157.5 498.8 L163.8 499.5 L171.2 502.5 L177.5 503.0 L183.8 506.2 L190.0 503.8 L193.8 501.8 L197.5 511.2 L201.2 512.5 L205.0 515.0 L208.8 521.2 L213.8 528.8 L217.5 533.8 L221.2 528.8 L225.0 527.5 L230.0 530.5 L235.0 532.0 L241.2 529.2 L246.2 529.2 L251.2 532.5 L257.5 537.0 L263.8 537.5 L268.8 535.5 L275.0 532.0 L278.0 536.2 L282.5 527.0 L288.8 525.0 L293.8 526.2 L297.5 525.5 L301.2 532.5 L307.5 535.5 L312.5 537.5 L317.5 541.2 L322.5 543.0 L327.5 542.0 L332.0 517.0 L335.5 523.8 L340.0 523.8 L345.0 526.2 L348.8 531.2 L351.2 542.5 L355.0 539.5 L360.0 542.5 L365.0 541.2 L370.0 541.2 L375.0 543.0 L380.0 543.0 L383.8 541.2 L387.5 548.8 L390.0 551.2 L395.0 545.0 L400.0 551.2 L405.0 552.0 L408.8 552.5 L413.0 555.0 L415.0 545.0 L418.0 550.0 L421.2 561.2 L426.2 558.8 L431.2 561.2 L436.2 563.2 L442.5 563.0 L447.0 550.5 L450.0 565.0 L452.5 571.2 L456.2 567.5 L461.2 570.0 L466.2 573.0 L470.0 574.2 L475.0 570.0 L481.2 566.2 L486.2 568.8 L491.2 567.0 L496.2 563.8 L501.2 551.2 L506.2 543.8 L509.5 532.5 L512.5 515.0 L516.2 511.2 L522.5 511.2 L526.2 517.5 L530.0 516.2 L534.5 522.5 L538.8 512.5 L542.5 510.8 L548.8 510.5 L553.8 511.2 L558.8 515.0 L562.5 517.5 L566.2 517.0 L571.2 516.2 L576.2 523.8 L580.0 525.5 L585.0 531.2 L590.0 536.2 L595.0 532.5 L600.0 528.0 L604.5 525.0 L608.0 528.0 L612.5 518.8 L617.5 515.0 L622.0 512.5 L625.0 521.2 L627.5 528.8 L632.5 528.8 L637.5 527.5 L641.2 531.2 L643.8 525.0 L647.5 513.8 L652.5 512.0 L658.8 512.0 L662.5 510.0 L665.0 502.5 L667.5 492.5 L670.0 480.0 L671.2 475.0 L673.0 470.0 L676.2 469.5 L680.0 466.2 L683.8 460.0 L687.5 447.5 L690.0 430.0 L692.5 405.0 L695.5 382.5 L698.8 380.0 L701.2 370.0 L703.8 360.5 L707.0 360.5 L709.5 368.8 L712.0 381.2 L714.5 403.8 L716.2 407.5 L718.8 403.8 L722.5 412.5 L725.0 411.2 L728.8 408.8 L732.0 403.8 L735.0 400.0 L738.8 401.2 L742.5 405.0 L746.2 406.2 L750.0 404.5 L753.8 402.5 L757.5 405.5 L761.2 401.2 L765.0 399.5 L768.8 392.5 L772.0 390.5 L775.0 392.5 L778.8 396.2 L783.8 400.0 L787.5 410.0 L791.2 408.8 L795.0 403.8 L800.0 402.0 L803.8 403.8 L807.5 412.0 L811.2 408.8 L815.0 407.0 L820.0 405.0 L823.8 401.2 L826.2 399.5 L830.0 406.2 L833.8 408.0 L837.5 407.0 L841.2 400.0 L845.0 398.8 L848.8 403.8 L852.0 396.2 L855.0 395.0 L858.8 398.0 L862.5 400.0 L866.2 403.8 L870.0 407.5 L875.0 408.8 L878.8 413.8 L882.5 417.0 L886.2 420.5 L890.0 423.0 L893.8 427.5 L897.5 425.0 L901.2 423.0 L905.0 423.8 L910.0 422.0 L913.8 427.5 L917.5 435.0 L921.2 440.0 L925.0 441.2 L928.8 439.5 L932.5 440.0 L936.2 442.0 L940.0 440.0 L945.0 442.5 L948.8 438.8 L952.5 437.0 L956.2 438.8 L960.0 437.0 L963.8 429.5 L967.5 426.2 L971.2 425.0 L975.0 430.0 L978.8 422.5 L982.5 425.0 L986.2 425.0 L990.0 432.5 L993.8 431.2 L997.5 433.8 L1000.0 436.4 L1003.3 437.7 L1006.6 432.7 L1009.8 426.1 L1012.0 420.6 L1014.9 410.8 L1017.9 402.0 L1021.2 397.7 L1024.1 402.0 L1027.3 407.1 L1030.6 411.4 L1033.9 414.5 L1037.2 415.2 L1039.8 418.4 L1042.7 415.2 L1044.8 413.0 L1048.1 414.5 L1051.4 416.3 L1054.7 422.8 L1056.9 425.0 L1060.2 424.6 L1063.4 422.8 L1066.7 430.5 L1070.0 438.1 L1073.3 445.8 L1076.6 453.4 L1079.9 462.2 L1082.7 468.8 L1086.4 470.5 L1089.7 472.7 L1094.1 474.2 L1097.4 474.9 L1099.5 468.8 L1101.7 457.8 L1103.9 446.9 L1106.1 441.4 L1109.4 445.1 L1112.7 448.0 L1115.9 453.4 L1119.2 456.1 L1122.5 454.5 L1125.8 450.2 L1129.1 444.7 L1132.4 440.3 L1134.5 445.8 L1136.7 450.2 L1140.0 452.4 L1144.4 454.1 L1148.8 453.4 L1151.4 453.9 L1154.2 445.8 L1157.1 435.9 L1159.7 429.8 L1164.1 430.5 L1167.4 430.5 L1170.6 426.1 L1173.9 427.6 L1177.2 431.6 L1179.4 433.8 L1182.7 432.7 L1186.0 434.9 L1189.2 434.9 L1192.5 439.2 L1195.8 442.1 L1199.1 444.3 L1202.4 445.4 L1205.0 444.7" stroke="#d62728"/>
<path d="M110.5 450.0 L171.2 450.0 L173.0 465.0 L175.0 477.5 L180.0 479.2 L190.0 480.0 L192.0 488.8 L194.5 490.0 L203.8 490.0 L207.5 494.5 L211.2 498.8 L328.8 498.8 L331.2 477.5 L351.2 477.5 L355.0 509.5 L412.5 509.5 L415.8 502.5 L416.5 502.5 L418.0 540.0 L420.0 565.0 L447.5 565.0 L450.0 573.0 L455.0 573.8 L457.0 540.0 L458.8 484.5 L508.8 484.5 L511.2 502.5 L513.0 515.0 L571.2 515.0 L573.8 522.5 L613.8 522.5 L616.2 527.5 L619.5 531.2 L668.8 531.2 L671.2 545.0 L673.8 550.0 L683.8 551.2 L687.5 557.0 L688.8 515.0 L690.0 475.0 L692.0 437.5 L695.0 412.5 L702.5 412.0 L707.0 405.0 L710.0 410.0 L712.5 417.5 L715.0 423.2 L725.0 423.2 L725.0 423.2 L791.2 423.2 L796.2 417.0 L802.5 417.0 L807.5 425.5 L821.2 425.5 L826.2 433.8 L837.5 433.8 L842.5 435.0 L846.2 440.0 L895.0 440.0 L898.8 433.0 L910.0 433.0 L913.8 440.0 L960.0 440.0 L963.8 446.2 L975.0 446.2 L978.8 434.5 L1000.0 434.5 L1000.0 434.2 L1009.2 434.2 L1012.0 425.0 L1014.9 415.8 L1063.4 415.8 L1067.8 396.6 L1077.7 396.6 L1082.0 401.6 L1098.0 401.6 L1100.2 381.3 L1101.7 362.0 L1105.4 362.0 L1107.6 372.5 L1109.8 381.7 L1120.3 381.7 L1124.7 375.8 L1129.1 375.8 L1132.4 365.5 L1136.1 379.1 L1151.4 379.1 L1153.6 370.3 L1155.8 361.1 L1205.0 361.1" stroke="#9467bd"/>
</g>
<line x1="110.5" x2="110.5" y1="360" y2="575" stroke="#222" stroke-width="1.3"/>
<line x1="110" x2="1205.5" y1="574.4" y2="574.4" stroke="#222" stroke-width="1.3"/>
<line x1="102.8" x2="113" y1="574.4" y2="574.4" stroke="#222" stroke-width="1.3"/>
<text x="97.2" y="578.5" text-anchor="end" font-size="12.4" fill="#555">0</text>
<line x1="105.6" x2="110.5" y1="565.8" y2="565.8" stroke="#222" stroke-width="1.3"/>
<line x1="105.6" x2="110.5" y1="557.3" y2="557.3" stroke="#222" stroke-width="1.3"/>
<line x1="105.6" x2="110.5" y1="548.7" y2="548.7" stroke="#222" stroke-width="1.3"/>
<line x1="105.6" x2="110.5" y1="540.2" y2="540.2" stroke="#222" stroke-width="1.3"/>
<line x1="102.8" x2="113" y1="531.6" y2="531.6" stroke="#222" stroke-width="1.3"/>
<text x="97.2" y="535.7" text-anchor="end" font-size="12.4" fill="#555">200.00 m</text>
<line x1="105.6" x2="110.5" y1="523.1" y2="523.1" stroke="#222" stroke-width="1.3"/>
<line x1="105.6" x2="110.5" y1="514.5" y2="514.5" stroke="#222" stroke-width="1.3"/>
<line x1="105.6" x2="110.5" y1="506.0" y2="506.0" stroke="#222" stroke-width="1.3"/>
<line x1="105.6" x2="110.5" y1="497.4" y2="497.4" stroke="#222" stroke-width="1.3"/>
<line x1="102.8" x2="113" y1="488.8" y2="488.8" stroke="#222" stroke-width="1.3"/>
<text x="97.2" y="492.9" text-anchor="end" font-size="12.4" fill="#555">400.00 m</text>
<line x1="105.6" x2="110.5" y1="480.3" y2="480.3" stroke="#222" stroke-width="1.3"/>
<line x1="105.6" x2="110.5" y1="471.7" y2="471.7" stroke="#222" stroke-width="1.3"/>
<line x1="105.6" x2="110.5" y1="463.2" y2="463.2" stroke="#222" stroke-width="1.3"/>
<line x1="105.6" x2="110.5" y1="454.6" y2="454.6" stroke="#222" stroke-width="1.3"/>
<line x1="102.8" x2="113" y1="446.1" y2="446.1" stroke="#222" stroke-width="1.3"/>
<text x="97.2" y="450.2" text-anchor="end" font-size="12.4" fill="#555">600.00 m</text>
<line x1="105.6" x2="110.5" y1="437.5" y2="437.5" stroke="#222" stroke-width="1.3"/>
<line x1="105.6" x2="110.5" y1="428.9" y2="428.9" stroke="#222" stroke-width="1.3"/>
<line x1="105.6" x2="110.5" y1="420.4" y2="420.4" stroke="#222" stroke-width="1.3"/>
<line x1="105.6" x2="110.5" y1="411.8" y2="411.8" stroke="#222" stroke-width="1.3"/>
<line x1="102.8" x2="113" y1="403.3" y2="403.3" stroke="#222" stroke-width="1.3"/>
<text x="97.2" y="407.4" text-anchor="end" font-size="12.4" fill="#555">800.00 m</text>
<line x1="105.6" x2="110.5" y1="394.7" y2="394.7" stroke="#222" stroke-width="1.3"/>
<line x1="105.6" x2="110.5" y1="386.2" y2="386.2" stroke="#222" stroke-width="1.3"/>
<line x1="105.6" x2="110.5" y1="377.6" y2="377.6" stroke="#222" stroke-width="1.3"/>
<line x1="105.6" x2="110.5" y1="369.1" y2="369.1" stroke="#222" stroke-width="1.3"/>
<line x1="102.8" x2="113" y1="360.5" y2="360.5" stroke="#222" stroke-width="1.3"/>
<text x="94.0" y="364.6" text-anchor="end" font-size="12.4" fill="#555">1.000</text>
<line x1="136.3" x2="136.3" y1="572" y2="581.4" stroke="#222" stroke-width="1.3"/>
<text x="136.3" y="596.6" text-anchor="middle" font-size="12.4" fill="#555">4h</text>
<line x1="320.5" x2="320.5" y1="572" y2="581.4" stroke="#222" stroke-width="1.3"/>
<text x="320.5" y="596.6" text-anchor="middle" font-size="12.4" fill="#555">8h</text>
<line x1="504.3" x2="504.3" y1="572" y2="581.4" stroke="#222" stroke-width="1.3"/>
<text x="504.3" y="596.6" text-anchor="middle" font-size="12.4" fill="#555">12h</text>
<line x1="688.2" x2="688.2" y1="572" y2="581.4" stroke="#222" stroke-width="1.3"/>
<text x="688.2" y="596.6" text-anchor="middle" font-size="12.4" fill="#555">16h</text>
<line x1="872.3" x2="872.3" y1="572" y2="581.4" stroke="#222" stroke-width="1.3"/>
<text x="872.3" y="596.6" text-anchor="middle" font-size="12.4" fill="#555">20h</text>
<line x1="1055.2" x2="1055.2" y1="572" y2="581.4" stroke="#222" stroke-width="1.3"/>
<text x="1055.2" y="596.6" text-anchor="middle" font-size="12.4" fill="#555">3/04</text>
<text transform="translate(33,467.5) rotate(-90)" text-anchor="middle" font-size="14.3" font-style="italic" fill="#444" letter-spacing="0.48">Normalized CVD [arb. u.]</text>
<text x="658.6" y="618.8" text-anchor="middle" font-size="14.3" font-style="italic" fill="#444" letter-spacing="0.45">Date (UTC)</text>
<text class="kr" transform="translate(813.6,493) scale(1.12,1)" font-size="25" letter-spacing="-2" word-spacing="5.2">곰지네 트레이딩</text>
<text class="kr" x="1002.6" y="493" font-size="24" letter-spacing="0.5">CVD</text>
<text class="kr" x="930.7" y="525.6" text-anchor="middle" font-size="24" letter-spacing="0.42">Powered By Material Indictors</text>
<text class="kr" x="1087.6" y="651.2" text-anchor="middle" font-size="25.35">https://t.me/oddstrading2</text>
<rect x="17" y="650" width="687.5" height="60" fill="#fff" stroke="#ebebeb" stroke-width="1"/>
<line x1="29.0" x2="52.0" y1="672.6" y2="672.6" stroke="#1f77b4" stroke-width="2.4"/>
<text x="58.2" y="676.8" font-size="12.2" fill="#555">all orders</text>
<line x1="112.0" x2="135.0" y1="672.6" y2="672.6" stroke="#ff7f0e" stroke-width="2.4"/>
<text x="141.5" y="676.8" font-size="12.2" fill="#555">$100 &lt; i &lt; $1k</text>
<line x1="222.7" x2="245.6" y1="672.6" y2="672.6" stroke="#2ca02c" stroke-width="2.4"/>
<text x="252.2" y="676.8" font-size="12.2" fill="#555">$1k &lt; i &lt; $10k</text>
<line x1="333.0" x2="356.0" y1="672.6" y2="672.6" stroke="#d62728" stroke-width="2.4"/>
<text x="362.2" y="676.8" font-size="12.2" fill="#555">$10k &lt; i &lt; $100k</text>
<line x1="457.0" x2="479.5" y1="672.6" y2="672.6" stroke="#9467bd" stroke-width="2.4"/>
<text x="486.2" y="676.8" font-size="12.2" fill="#555">$100k &lt; i &lt; $1M</text>
<line x1="577.8" x2="600.4" y1="672.6" y2="672.6" stroke="#8c564b" stroke-width="2.4"/>
<text x="607.5" y="676.8" font-size="12.2" fill="#555">$1M &lt; i &lt; $10M</text>
</svg>
</body></html>
